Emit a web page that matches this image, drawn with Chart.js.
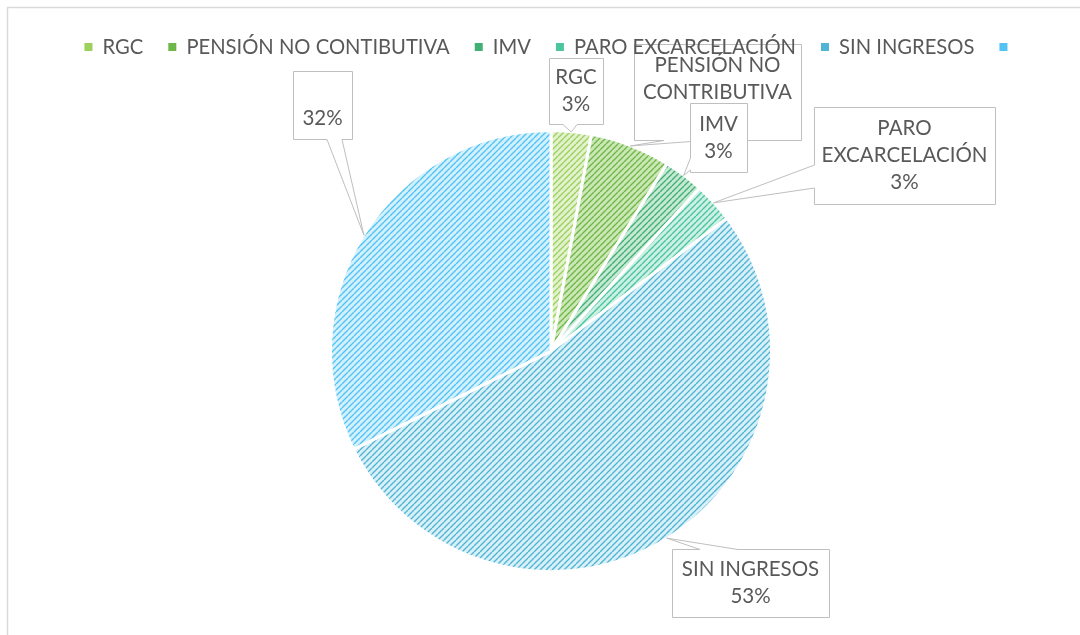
<!DOCTYPE html>
<html><head><meta charset="utf-8">
<script src="https://cdn.jsdelivr.net/npm/chart.js@4.4.1/dist/chart.umd.min.js"></script>
<style>html,body{margin:0;padding:0;background:#fff;}canvas{display:block}</style>
</head><body>
<canvas id="c" width="1080" height="635"></canvas>
<script>
// ---- data ----
const categories = ['RGC', 'PENSIÓN NO CONTIBUTIVA', 'IMV', 'PARO EXCARCELACIÓN', 'SIN INGRESOS', ''];
const counts = [1, 2, 1, 1, 18, 11];
const dataLabelLines = [['RGC'], ['PENSIÓN NO', 'CONTRIBUTIVA'], ['IMV'], ['PARO', 'EXCARCELACIÓN'], ['SIN INGRESOS'], ['']];
const stripeColors = ['#9dd05c', '#6fb748', '#42b075', '#4ac59f', '#52b4d4', '#52c3f4'];
const tintColors = ['#e2f2ce', '#cbe7b6', '#c6e9d4', '#ccf0e4', '#d8f0f7', '#d3f0fd'];

// ---- layout of callout boxes (positions only) ----
const calloutBoxes = [
  {x: 549, y: 58, w: 54, h: 66, side: 'bottom', b1: 563, b2: 577},
  {x: 634, y: 44, w: 167, h: 96, side: 'bottom', b1: 664, b2: 705},
  {x: 690, y: 103, w: 57, h: 69, side: 'left', b1: 158, b2: 170},
  {x: 814, y: 107, w: 181, h: 97, side: 'left', b1: 165, b2: 188},
  {x: 672, y: 549, w: 157, h: 68, side: 'top', b1: 700, b2: 738},
  {x: 293, y: 71, w: 59, h: 68, side: 'bottom', b1: 327, b2: 342}
];

const FONT_FAMILY = 'Lato, "Open Sans", sans-serif';
const LEGEND_FONT_SIZE = 20.2;
const LABEL_FONT_SIZE = 20.5;
const TEXT_COLOR = '#595959';

function makePattern(fg, bg) {
  const s = 6;
  const c = document.createElement('canvas');
  c.width = s; c.height = s;
  const x = c.getContext('2d');
  x.fillStyle = bg; x.fillRect(0, 0, s, s);
  x.strokeStyle = fg; x.lineWidth = 1.4;
  x.beginPath();
  for (let k = -1; k <= 1; k++) { x.moveTo(k * s, s); x.lineTo(k * s + s, 0); }
  x.stroke();
  return x.createPattern(c, 'repeat');
}
const fills = stripeColors.map((c, i) => makePattern(c, tintColors[i]));

const framePlugin = {
  id: 'frame',
  beforeDraw(chart) {
    const ctx = chart.ctx;
    ctx.save();
    ctx.fillStyle = '#fff';
    ctx.fillRect(0, 0, chart.width, chart.height);
    ctx.strokeStyle = '#d9d9d9';
    ctx.lineWidth = 1.5;
    ctx.strokeRect(7.5, 7.5, chart.width + 20, chart.height + 20);
    ctx.restore();
  }
};

const legendOnTop = {
  id: 'legendOnTop',
  beforeLayout(chart) {
    const lg = chart.legend;
    if (lg && !lg._onTop) {
      lg._onTop = true;
      lg._layers = () => [{z: 10, draw: (ca) => lg.draw(ca)}];
    }
  }
};

const calloutPlugin = {
  id: 'callouts',
  afterDatasetsDraw(chart) {
    const ctx = chart.ctx;
    const meta = chart.getDatasetMeta(0);
    const vals = chart.data.datasets[0].data;
    const total = vals.reduce((a, b) => a + b, 0);
    ctx.save();
    meta.data.forEach((arc, i) => {
      const bx = calloutBoxes[i];
      if (!bx) return;
      const a = arc.getProps(['x', 'y', 'startAngle', 'endAngle', 'outerRadius'], true);
      const mid = (a.startAngle + a.endAngle) / 2;
      const r = a.outerRadius - 0.5;
      const tip = {x: a.x + Math.cos(mid) * r, y: a.y + Math.sin(mid) * r};
      const L = bx.x + 0.5, T = bx.y + 0.5, R = bx.x + bx.w + 0.5, B = bx.y + bx.h + 0.5;
      const pts = [[L, T]];
      if (bx.side === 'top') pts.push([bx.b1, T], [tip.x, tip.y], [bx.b2, T]);
      pts.push([R, T]);
      if (bx.side === 'right') pts.push([R, bx.b1], [tip.x, tip.y], [R, bx.b2]);
      pts.push([R, B]);
      if (bx.side === 'bottom') pts.push([bx.b2, B], [tip.x, tip.y], [bx.b1, B]);
      pts.push([L, B]);
      if (bx.side === 'left') pts.push([L, bx.b2], [tip.x, tip.y], [L, bx.b1]);
      ctx.beginPath();
      pts.forEach((p, k) => k ? ctx.lineTo(p[0], p[1]) : ctx.moveTo(p[0], p[1]));
      ctx.closePath();
      ctx.fillStyle = '#ffffff';
      ctx.fill();
      ctx.strokeStyle = '#bfbfbf';
      ctx.lineWidth = 1;
      ctx.stroke();
      const lines = dataLabelLines[i].concat([Math.round(vals[i] / total * 100) + '%']);
      const lh = 27;
      const cy = bx.y + bx.h / 2;
      ctx.fillStyle = TEXT_COLOR;
      ctx.font = LABEL_FONT_SIZE + 'px ' + FONT_FAMILY;
      ctx.textAlign = 'center';
      ctx.textBaseline = 'middle';
      lines.forEach((t, k) => {
        ctx.fillText(t, bx.x + bx.w / 2, cy - (lines.length - 1) * lh / 2 + k * lh);
      });
    });
    ctx.restore();
  }
};

new Chart(document.getElementById('c'), {
  type: 'pie',
  data: {
    labels: categories,
    datasets: [{
      data: counts,
      backgroundColor: fills,
      borderColor: '#ffffff',
      borderWidth: 3,
      hoverBorderWidth: 3,
      hoverOffset: 0,
      offset: 0,
      radius: 220.5
    }]
  },
  options: {
    responsive: false,
    animation: false,
    events: [],
    radius: 220.5,
    layout: {padding: {top: 12, left: 22, right: 0, bottom: -8}},
    plugins: {
      tooltip: {enabled: false},
      legend: {
        position: 'top',
        align: 'center',
        labels: {
          boxWidth: 8,
          boxHeight: 8,
          padding: 25,
          color: TEXT_COLOR,
          font: {family: FONT_FAMILY, size: LEGEND_FONT_SIZE},
          generateLabels(chart) {
            return chart.data.labels.map((l, i) => ({
              text: l, fillStyle: stripeColors[i], strokeStyle: 'rgba(0,0,0,0)',
              lineWidth: 0, hidden: false, index: i, fontColor: TEXT_COLOR
            }));
          }
        }
      }
    }
  },
  plugins: [framePlugin, legendOnTop, calloutPlugin]
});
</script>
</body></html>
